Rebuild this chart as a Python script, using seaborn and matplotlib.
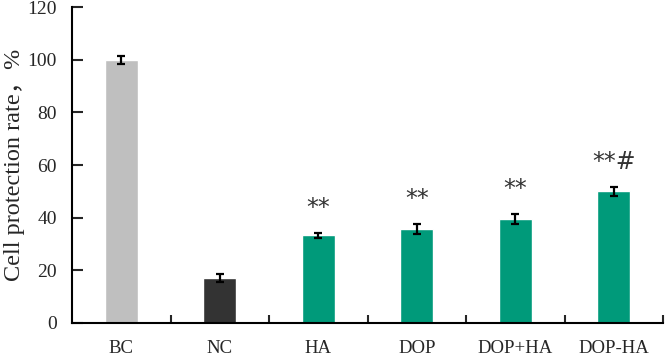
import numpy as np
import pandas as pd
import seaborn as sns
import matplotlib.pyplot as plt
from matplotlib.ticker import FixedLocator

groups = ['BC', 'NC', 'HA', 'DOP', 'DOP+HA', 'DOP-HA']
rates = [100.0, 17.0, 33.3, 35.6, 39.3, 50.0]
errors = [1.5, 1.4, 0.9, 2.0, 1.9, 1.8]
marks = ['', '', '**', '**', '**', '**#']
colors = ['#BFBFBF', '#333333', '#009A7A', '#009A7A', '#009A7A', '#009A7A']

df = pd.DataFrame({'group': groups, 'rate': rates})

sns.set_style('white')
plt.rcParams['font.family'] = ['Liberation Serif', 'DejaVu Serif']

fig = plt.figure(figsize=(6.67, 3.56), dpi=100)
ax = fig.add_axes([0.108, 0.093, 0.886, 0.887])

sns.barplot(data=df, x='group', y='rate', hue='group', palette=colors,
            width=0.335, legend=False, saturation=1, ax=ax)
ax.errorbar(np.arange(len(groups)), rates, yerr=errors, fmt='none',
            ecolor='black', elinewidth=1.6, capsize=3, capthick=1.6)

for i, (r, e, m) in enumerate(zip(rates, errors, marks)):
    if m:
        ax.text(i, r + e + 9.5, m, ha='center', va='center',
                fontsize=17, family=['DejaVu Sans'], color='#333333')

ax.set_xlim(-0.5, 5.5)
ax.set_ylim(0, 120)
ax.set_yticks(range(0, 121, 20))
ax.xaxis.set_minor_locator(FixedLocator(np.arange(0.5, 6.0, 1.0)))
ax.tick_params(axis='x', which='major', length=0, labelsize=13.5, pad=12)
ax.tick_params(axis='x', which='minor', direction='in', length=6, width=1.5, bottom=True)
ax.tick_params(axis='y', direction='in', length=8, width=1.5, labelsize=14, pad=11, left=True)
ax.set_xlabel('')
ax.set_ylabel('Cell protection rate，%', fontsize=17.5, family=['Liberation Serif', 'Noto Sans CJK SC'])
ax.yaxis.set_label_coords(-0.08, 0.5)

sns.despine(ax=ax)
for s in ['left', 'bottom']:
    ax.spines[s].set_linewidth(1.5)
    ax.spines[s].set_color('black')

fig.savefig('out.png', dpi=100)
